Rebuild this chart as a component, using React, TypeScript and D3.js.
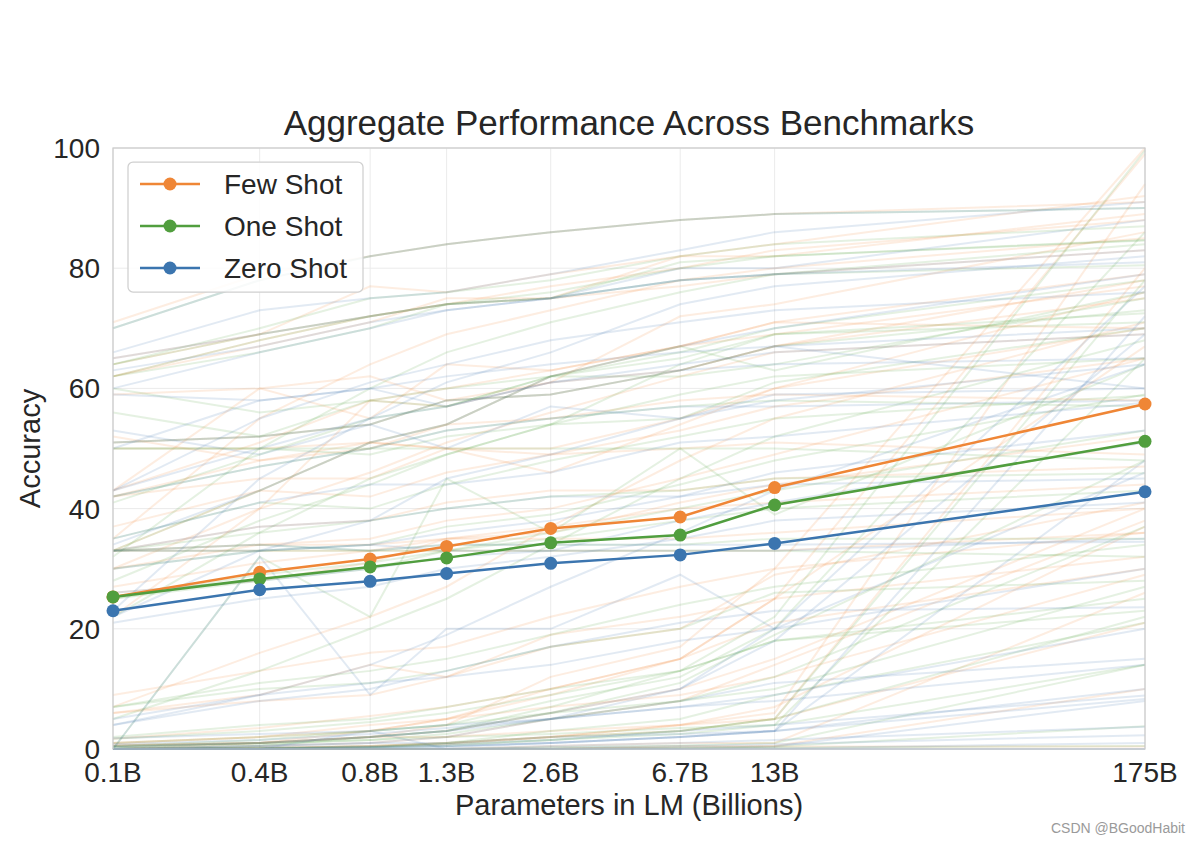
import React from "react";
import * as d3 from "d3";

// Model sizes (billions) and tick labels
const params = [0.125, 0.35, 0.76, 1.3, 2.7, 6.7, 13, 175];
const tickLabels = ["0.1B", "0.4B", "0.8B", "1.3B", "2.6B", "6.7B", "13B", "175B"];
const yTicks = [0, 20, 40, 60, 80, 100];

// Aggregate means
const fewShotMean = [25.3, 29.4, 31.6, 33.7, 36.7, 38.6, 43.5, 57.4];
const oneShotMean = [25.3, 28.3, 30.3, 31.8, 34.3, 35.6, 40.6, 51.2];
const zeroShotMean = [23.0, 26.5, 27.9, 29.2, 30.9, 32.3, 34.2, 42.8];

// Individual benchmark curves (faint background lines)
const fewShotRuns: number[][] = [
  [22, 40, 58, 57, 61, 72, 74, 86],
  [62, 68, 72, 74, 77, 80, 83, 88],
  [33, 43, 51, 54, 62, 67, 71, 79],
  [1.7, 3.5, 5.5, 7, 10, 15, 21, 30],
  [6, 8, 9, 12, 17, 20, 29, 41],
  [7, 16, 22, 27, 37, 48, 55, 71],
  [65, 69, 72, 74, 75, 77, 79, 83],
  [43, 51, 58, 60, 63, 67, 71, 70],
  [26, 28, 31, 35, 36, 41, 44, 52],
  [37, 43, 42, 46, 49, 53, 57, 65],
  [62, 67, 71, 75, 75, 82, 82, 89],
  [51, 52, 54, 58, 59, 63, 67, 78],
  [33, 37, 38, 41, 43, 43, 45, 47],
  [42, 48, 50, 54, 55, 58, 59, 58],
  [30, 40, 46, 51, 56, 62, 66, 69],
  [35, 55, 64, 69, 73, 78, 80, 85],
  [9, 13, 16, 17, 22, 27, 30, 36],
  [43, 60, 55, 64, 63, 67, 69, 77],
  [42, 45, 45, 50, 46, 54, 60, 76],
  [64, 69, 77, 76, 79, 82, 84, 92],
  [52, 48, 51, 50, 50, 55, 60, 70],
  [50, 50, 51, 50, 49, 50, 51, 49],
  [59, 60, 62, 58, 61, 63, 67, 75],
  [6, 9, 14, 12, 19, 22, 25, 32],
  [71, 79, 82, 84, 86, 88, 89, 91],
  [33, 33, 33, 33, 33, 33, 33, 36],
  [33, 34, 34, 35, 35, 35, 36, 40],
  [0.7, 1, 2, 4, 12, 17, 30, 100],
  [1, 2, 3, 5, 10, 15, 25, 99],
  [0, 0.1, 0.5, 1, 2, 3, 5, 80],
  [0, 0.1, 0.5, 1, 2, 4, 6, 94],
  [0, 0, 0, 0, 0.5, 1, 1, 26],
  [0, 0, 0, 0, 0, 0.5, 0.5, 10],
  [1, 2, 4, 5, 7, 9, 12, 29],
  [0.5, 1, 2, 2, 3, 4, 5, 21],
  [0, 0.5, 1, 2, 5, 8, 14, 38],
  [0, 0.2, 0.4, 0.8, 2, 4, 7, 37],
  [0.5, 1, 2, 3, 6, 10, 15, 40],
  [0, 1, 3, 5, 9, 15, 25, 67],
  [0, 0, 0, 0, 0.1, 0.2, 0.4, 0.4],
  [30, 34, 35, 38, 40, 45, 49, 65],
  [27, 31, 33, 35, 37, 40, 41, 44],
];

const oneShotRuns: number[][] = [
  [22, 36, 45, 49, 54, 64, 69, 72.5],
  [62, 68, 72, 74, 76, 80, 82, 84.7],
  [33, 43, 51, 54, 62, 66, 70, 78],
  [1.7, 3, 4.5, 6, 9, 13, 18, 23],
  [2, 4, 5, 7, 10, 13, 18, 25],
  [5, 13, 20, 25, 34, 45, 52, 68],
  [64, 69, 72, 74, 75, 78, 79, 80.5],
  [41, 49, 55, 57, 62, 65, 69, 71],
  [25, 28, 30, 33, 36, 40, 43, 53],
  [35, 41, 40, 44, 48, 52, 55, 58.8],
  [62, 66, 70, 74, 75, 81, 82, 84.6],
  [51, 52, 54, 58, 59, 63, 67, 73],
  [33, 36, 38, 40, 42, 43, 45, 45.9],
  [42, 47, 50, 53, 55, 57, 58, 57],
  [28, 38, 44, 49, 54, 59, 62, 65],
  [32, 50, 60, 66, 71, 76, 79, 84],
  [7, 11, 13, 15, 19, 24, 27, 34],
  [56, 52, 58, 57, 62, 67, 63, 76],
  [0, 32, 22, 45, 36, 50, 39, 64],
  [64, 70, 75, 76, 78, 82, 84, 87],
  [50, 50, 49, 52, 54, 55, 61, 70],
  [50, 50, 50, 50, 50, 50, 50, 48],
  [60, 56, 58, 60, 62, 62, 64, 75],
  [7, 10, 11, 13, 17, 20, 26, 28],
  [70, 78, 82, 84, 86, 88, 89, 90],
  [33, 33, 33, 33, 33, 33, 33, 32],
  [33, 34, 33, 34, 34, 34, 35, 35],
  [0.5, 1, 2, 3, 7, 13, 22, 99.6],
  [1, 2, 3, 4, 8, 12, 20, 86],
  [0, 0.1, 0.3, 0.8, 1.5, 2.5, 4, 65],
  [0, 0.1, 0.3, 1, 2, 3, 5, 78],
  [0, 0, 0, 0, 0.3, 0.6, 1, 14],
  [0, 0, 0, 0, 0, 0.2, 0.4, 3.8],
  [0.5, 1.5, 3, 4, 6, 8, 10, 27],
  [0.3, 1, 1.5, 2, 2.5, 3.5, 4, 14],
  [0, 0.2, 0.5, 1, 3, 5, 9, 21],
  [0, 0.1, 0.3, 0.5, 1.5, 3, 5, 22],
  [0.3, 0.8, 1.5, 2.5, 5, 8, 12, 37],
  [0, 0.5, 2, 3, 6, 11, 19, 48],
  [0, 0, 0, 0, 0, 0.1, 0.2, 0.5],
  [30, 33, 34, 37, 39, 44, 48, 59],
  [25, 29, 31, 33, 35, 38, 40, 43],
];

const zeroShotRuns: number[][] = [
  [43, 55, 61, 64, 68, 71, 73, 76],
  [63, 67, 71, 73, 75, 78, 79, 83],
  [34, 43, 51, 54, 62, 67, 70, 79],
  [0.8, 1.5, 2.5, 3.5, 5, 8, 11, 15],
  [1.8, 2.5, 3, 4, 5, 7, 8, 14],
  [4, 9, 14, 19, 27, 36, 43, 64],
  [65, 69, 72, 74, 75, 78, 79, 81],
  [43, 50, 55, 57, 61, 64, 66, 69],
  [26, 28, 30, 32, 33, 38, 41, 51],
  [35, 41, 44, 44, 46, 51, 52, 57.6],
  [60, 66, 70, 73, 75, 80, 80, 88],
  [51, 52, 54, 58, 59, 63, 67, 70],
  [33, 37, 38, 40, 42, 42, 44, 45],
  [42, 47, 50, 53, 55, 57, 57, 58],
  [22, 33, 38, 45, 49, 55, 59, 60],
  [23, 45, 55, 61, 66, 74, 77, 82],
  [4, 8, 10, 13, 17, 21, 23, 23.6],
  [50, 58, 60, 62, 64, 66, 67, 60],
  [0, 32, 9, 20, 20, 29, 20, 46],
  [66, 73, 75, 76, 79, 83, 86, 91],
  [53, 49, 54, 50, 57, 55, 58, 64],
  [0, 0, 0, 0, 0, 0, 0, 0],
  [59, 58, 60, 57, 61, 63, 64, 65],
  [5, 9, 11, 12, 14, 18, 20, 30],
  [70, 78, 82, 84, 86, 88, 89, 90],
  [33, 33, 34, 33, 33, 33, 33, 35],
  [33, 34, 33, 34, 34, 34, 34, 34.5],
  [0, 0.5, 1, 2, 5, 10, 20, 77],
  [0.5, 1, 2, 3, 6, 10, 18, 69],
  [0, 0, 0.1, 0.3, 1, 2, 3, 48],
  [0, 0, 0.3, 0.5, 1, 2, 3, 72],
  [0, 0, 0, 0, 0, 0.2, 0.4, 8],
  [0, 0, 3, 0, 0, 0, 0.1, 1],
  [0.3, 1, 2, 3, 5, 7, 9, 20],
  [0, 0.5, 1, 1, 2, 2.5, 3, 10],
  [0, 0, 0, 0, 0.5, 1, 1.5, 3.7],
  [0, 0, 0, 0, 0.2, 0.5, 0.8, 2.3],
  [0, 0.2, 0.4, 0.8, 1.5, 3, 4, 8.9],
  [0, 0.1, 0.3, 0.5, 1, 2, 3, 8.3],
  [0, 0, 0, 0, 0, 0, 0, 0],
  [30, 33, 34, 36, 38, 42, 46, 53],
  [21, 25, 27, 30, 32, 35, 38, 41],
];

const seriesNames = ["Few Shot", "One Shot", "Zero Shot"];
const seriesColors = ["#ef8636", "#519e3e", "#3b75af"];

const W = 1200;
const H = 842;
const M = { left: 113, right: 1145, top: 148, bottom: 749 };
const FONT = "'Liberation Sans', Arial, Helvetica, sans-serif";

export default function App() {
  const x = d3.scaleLog().domain([params[0], params[params.length - 1]]).range([M.left, M.right]);
  const y = d3.scaleLinear().domain([0, 100]).range([M.bottom, M.top]);
  const line = d3
    .line<number>()
    .x((_, i) => x(params[i]))
    .y((d) => y(d));

  const runs = [fewShotRuns, oneShotRuns, zeroShotRuns];
  const means = [fewShotMean, oneShotMean, zeroShotMean];

  return (
    <svg
      width={W}
      height={H}
      style={{ position: "absolute", left: 0, top: 0, background: "#fff" }}
      fontFamily={FONT}
    >
      <rect x={0} y={0} width={W} height={H} fill="#fff" />
      {/* grid */}
      <g stroke="#ebebeb" strokeWidth={1}>
        {yTicks.map((t) => (
          <line key={"gy" + t} x1={M.left} x2={M.right} y1={y(t)} y2={y(t)} />
        ))}
        {params.map((p) => (
          <line key={"gx" + p} x1={x(p)} x2={x(p)} y1={M.top} y2={M.bottom} />
        ))}
      </g>
      {/* background benchmark lines */}
      <g fill="none" strokeWidth={2} strokeOpacity={0.15}>
        {runs.map((set, si) =>
          set.map((r, ri) => (
            <path key={si + "-" + ri} d={line(r) || ""} stroke={seriesColors[si]} />
          ))
        )}
      </g>
      {/* spines */}
      <rect
        x={M.left}
        y={M.top}
        width={M.right - M.left}
        height={M.bottom - M.top}
        fill="none"
        stroke="#cccccc"
        strokeWidth={1.25}
      />
      {/* mean lines */}
      {means.map((m, si) => (
        <g key={"m" + si}>
          <path d={line(m) || ""} fill="none" stroke={seriesColors[si]} strokeWidth={2.5} />
          {m.map((v, i) => (
            <circle key={i} cx={x(params[i])} cy={y(v)} r={6.5} fill={seriesColors[si]} />
          ))}
        </g>
      ))}
      {/* y ticks */}
      <g fontSize={28} fill="#262626" textAnchor="end">
        {yTicks.map((t) => (
          <text key={"yt" + t} x={100} y={y(t)} dy="0.36em">
            {t}
          </text>
        ))}
      </g>
      {/* x ticks */}
      <g fontSize={28} fill="#262626" textAnchor="middle">
        {params.map((p, i) => (
          <text key={"xt" + p} x={x(p)} y={782}>
            {tickLabels[i]}
          </text>
        ))}
      </g>
      {/* axis labels */}
      <text x={629} y={815} fontSize={29} fill="#262626" textAnchor="middle">
        Parameters in LM (Billions)
      </text>
      <text
        transform={`translate(40, ${(M.top + M.bottom) / 2}) rotate(-90)`}
        fontSize={29}
        fill="#262626"
        textAnchor="middle"
      >
        Accuracy
      </text>
      {/* title */}
      <text x={629} y={135} fontSize={35} fill="#262626" textAnchor="middle">
        Aggregate Performance Across Benchmarks
      </text>
      {/* legend */}
      <g>
        <rect x={128} y={162} width={235} height={130} rx={5} fill="#fff" fillOpacity={0.85} stroke="#d0d0d0" strokeWidth={1.25} />
        {seriesNames.map((n, i) => {
          const cy = 184 + i * 42;
          return (
            <g key={n}>
              <line x1={140} x2={200} y1={cy} y2={cy} stroke={seriesColors[i]} strokeWidth={2.5} />
              <circle cx={170} cy={cy} r={6.5} fill={seriesColors[i]} />
              <text x={224} y={cy} dy="0.36em" fontSize={28} fill="#262626">
                {n}
              </text>
            </g>
          );
        })}
      </g>
      {/* watermark */}
      <text x={1185} y={833} fontSize={14} fill="#9a9a9a" textAnchor="end">
        CSDN @BGoodHabit
      </text>
    </svg>
  );
}
